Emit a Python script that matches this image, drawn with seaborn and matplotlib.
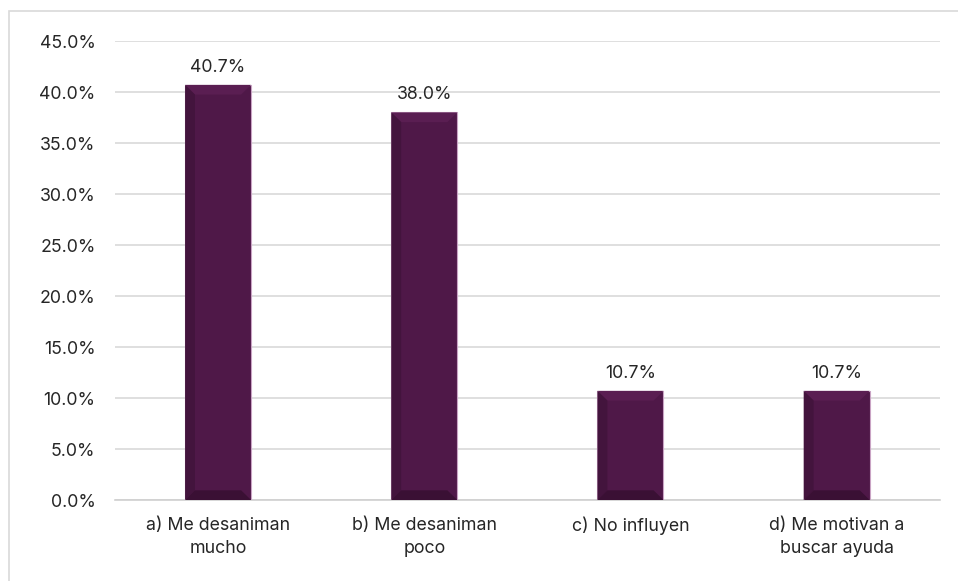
import matplotlib
matplotlib.use("Agg")
import matplotlib.pyplot as plt
import seaborn as sns
import pandas as pd
from matplotlib.patches import Rectangle, Polygon

# data
categories = ["a) Me desaniman\nmucho", "b) Me desaniman\npoco", "c) No influyen", "d) Me motivan a\nbuscar ayuda"]
values = [0.407, 0.380, 0.107, 0.107]
yticks = [0.0, 0.05, 0.10, 0.15, 0.20, 0.25, 0.30, 0.35, 0.40, 0.45]

df = pd.DataFrame({"categoria": categories, "valor": values})

sns.set_style("white")
plt.rcParams["font.family"] = ["Inter", "DejaVu Sans"]

fig = plt.figure(figsize=(9.58, 5.81), dpi=100)
ax = fig.add_axes([0.12, 0.1394, 0.861, 0.79])

bar_color = "#4F1848"
sns.barplot(data=df, x="categoria", y="valor", color=bar_color, width=0.32,
            saturation=1, ax=ax, zorder=3)

# bevel look on each bar, taken from the bar patches
for p in list(ax.patches):
    x0, w, h = p.get_x(), p.get_width(), p.get_height()
    p.set_edgecolor("#C9A3C4")
    p.set_linewidth(0.8)
    bx = w * 0.15
    by = 0.0095
    # top lighter strip
    ax.add_patch(Polygon([(x0, h), (x0 + w, h), (x0 + w - bx, h - by), (x0 + bx, h - by)],
                         closed=True, facecolor="#5A1E52", edgecolor="none", zorder=4))
    # left darker strip
    ax.add_patch(Polygon([(x0, 0), (x0, h), (x0 + bx, h - by), (x0 + bx, by)],
                         closed=True, facecolor="#43143D", edgecolor="none", zorder=4))
    # bottom darker strip
    ax.add_patch(Polygon([(x0, 0), (x0 + w, 0), (x0 + w - bx, by), (x0 + bx, by)],
                         closed=True, facecolor="#3A1034", edgecolor="none", zorder=4))

for i, v in enumerate(values):
    ax.text(i, v + 0.009, f"{v*100:.1f}%", ha="center", va="bottom", fontsize=12.8, color="#262626")

ax.set_ylim(0, 0.45)
ax.set_yticks(yticks)
ax.set_yticklabels([f"{t*100:.1f}%" for t in yticks])
ax.set_xlim(-0.5, 3.5)
for lbl in ax.get_xticklabels():
    lbl.set_linespacing(1.5)
ax.yaxis.grid(True, color="#D9D9D9", linewidth=1.2, zorder=0)
ax.set_axisbelow(True)
ax.set_xlabel("")
ax.set_ylabel("")
for s in ["top", "right", "left"]:
    ax.spines[s].set_visible(False)
ax.spines["bottom"].set_color("#D0D0D0")
ax.spines["bottom"].set_linewidth(1.2)
ax.tick_params(axis="both", length=0, labelsize=12.8, colors="#262626")
ax.tick_params(axis="y", pad=14)
ax.tick_params(axis="x", pad=12)

# chart frame
fig.patches.append(Rectangle((9 / 958, -0.1), 1.2, 1 - 11 / 581 + 0.1, transform=fig.transFigure,
                             fill=False, edgecolor="#D9D9D9", linewidth=1.2))

fig.savefig("out.png", dpi=100)
